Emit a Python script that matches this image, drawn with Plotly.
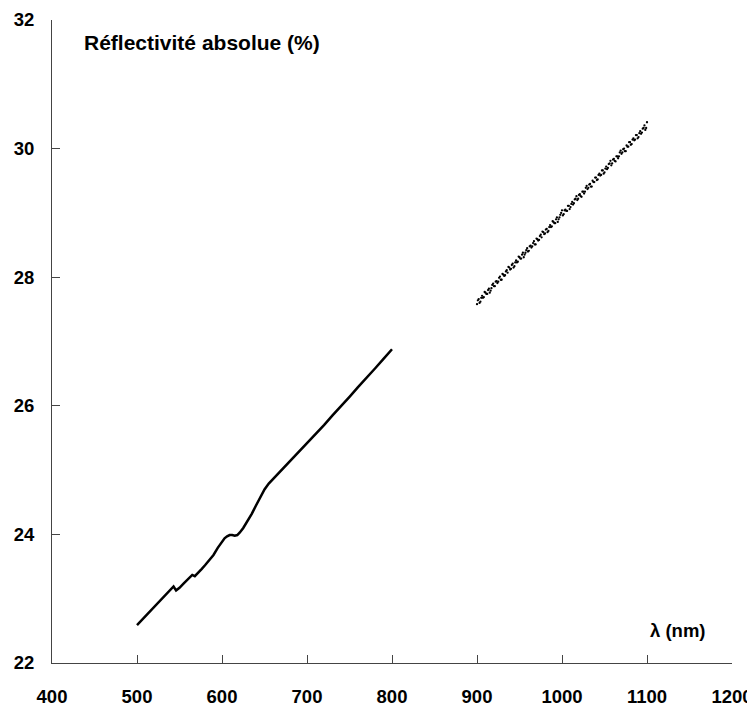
import plotly.graph_objects as go

# Continuous measured spectrum (500-800 nm)
line_wl = [500, 505, 510, 515, 520, 525, 530, 535, 540, 543, 546, 550, 555, 560, 565,
           568, 572, 576, 580, 585, 590, 595, 600, 603, 606, 609, 612, 615, 618, 621,
           625, 630, 635, 640, 645, 650, 655, 660, 665, 670, 680, 690, 700, 710, 720,
           730, 740, 750, 760, 770, 780, 790, 800]
line_refl = [22.59, 22.66, 22.74, 22.81, 22.88, 22.95, 23.01, 23.08, 23.15, 23.19, 23.13,
             23.17, 23.24, 23.30, 23.37, 23.35, 23.40, 23.46, 23.52, 23.60, 23.68, 23.79,
             23.89, 23.94, 23.97, 23.99, 23.99, 23.98, 23.99, 24.03, 24.10, 24.20, 24.32,
             24.45, 24.57, 24.70, 24.79, 24.86, 24.93, 24.99, 25.13, 25.27, 25.41, 25.56,
             25.70, 25.85, 25.99, 26.14, 26.29, 26.43, 26.58, 26.73, 26.88]

# Near-infrared dotted spectrum (900-1100 nm), even wavelengths
dot_wl_even = list(range(900, 1101, 2))
dot_refl_even = [27.58, 27.66, 27.62, 27.71, 27.69, 27.76, 27.74, 27.82, 27.79, 27.88,
                 27.86, 27.93, 27.91, 27.99, 27.96, 28.05, 28.02, 28.09, 28.07, 28.15,
                 28.13, 28.21, 28.17, 28.26, 28.24, 28.31, 28.29, 28.38, 28.35, 28.42,
                 28.40, 28.48, 28.46, 28.53, 28.51, 28.60, 28.57, 28.64, 28.62, 28.70,
                 28.68, 28.75, 28.72, 28.81, 28.79, 28.86, 28.84, 28.93, 28.90, 28.97,
                 29.04, 28.98, 29.05, 29.03, 29.11, 29.09, 29.17, 29.15, 29.22, 29.20,
                 29.28, 29.26, 29.33, 29.30, 29.39, 29.37, 29.44, 29.41, 29.50, 29.48,
                 29.55, 29.52, 29.61, 29.59, 29.66, 29.63, 29.72, 29.70, 29.77, 29.74,
                 29.83, 29.81, 29.88, 29.85, 29.94, 29.92, 29.99, 29.96, 30.05, 30.03,
                 30.10, 30.07, 30.16, 30.14, 30.21, 30.18, 30.27, 30.25, 30.32, 30.29,
                 30.41]

# odd wavelengths
dot_wl_odd = list(range(901, 1100, 2))
dot_refl_odd = [27.64, 27.60, 27.68, 27.68, 27.77, 27.74, 27.80, 27.76, 27.83, 27.90,
                27.86, 27.94, 27.93, 28.01, 27.96, 28.04, 28.03, 28.11, 28.16, 28.12,
                28.19, 28.15, 28.23, 28.23, 28.32, 28.29, 28.35, 28.31, 28.38, 28.45,
                28.41, 28.49, 28.48, 28.56, 28.51, 28.59, 28.58, 28.66, 28.71, 28.67,
                28.74, 28.70, 28.78, 28.78, 28.87, 28.84, 28.90, 28.86, 28.93, 29.00,
                28.96, 29.04, 29.03, 29.11, 29.06, 29.14, 29.13, 29.21, 29.26, 29.22,
                29.29, 29.25, 29.33, 29.33, 29.42, 29.39, 29.45, 29.41, 29.48, 29.55,
                29.51, 29.59, 29.58, 29.66, 29.61, 29.69, 29.68, 29.76, 29.81, 29.77,
                29.84, 29.80, 29.88, 29.88, 29.97, 29.94, 30.00, 29.96, 30.03, 30.10,
                30.06, 30.14, 30.13, 30.21, 30.16, 30.24, 30.23, 30.31, 30.36, 30.32]

x_ticks = [400, 500, 600, 700, 800, 900, 1000, 1100, 1200]
y_ticks = [22, 24, 26, 28, 30, 32]

FONT = "Liberation Sans, Arial, sans-serif"

fig = go.Figure()
fig.add_trace(go.Scatter(x=line_wl, y=line_refl, mode="lines",
                         line=dict(color="black", width=2.5), showlegend=False))
fig.add_trace(go.Scatter(x=dot_wl_even + dot_wl_odd, y=dot_refl_even + dot_refl_odd,
                         mode="markers", marker=dict(color="black", size=2.3),
                         showlegend=False))

axis_common = dict(showgrid=False, zeroline=False, showline=True, linecolor="#444",
                   linewidth=1, ticks="inside", ticklen=8, tickcolor="#444", tickwidth=1,
                   automargin=False,
                   tickfont=dict(family=FONT, size=18.5, color="black", weight="bold"))

fig.update_xaxes(range=[400, 1200], tickvals=x_ticks, ticklabelstandoff=17, **axis_common)
fig.update_yaxes(range=[22, 32], tickvals=y_ticks, ticklabelstandoff=13, **axis_common)

fig.add_annotation(x=0.044, y=0.965, xref="paper", yref="paper", xanchor="left",
                   yanchor="middle", showarrow=False, text="Réflectivité absolue (%)",
                   font=dict(family=FONT, size=21, color="black", weight="bold"))
fig.add_annotation(x=0.877, y=0.05, xref="paper", yref="paper", xanchor="left",
                   yanchor="middle", showarrow=False, text="λ (nm)",
                   font=dict(family=FONT, size=18.5, color="black", weight="bold"))

# The page body has an 8 px default margin, so the figure is sized to fit the window.
fig.update_layout(width=747, height=699, plot_bgcolor="white", paper_bgcolor="white",
                  margin=dict(l=44, r=23, t=12, b=44))

fig.write_html("out.html")
